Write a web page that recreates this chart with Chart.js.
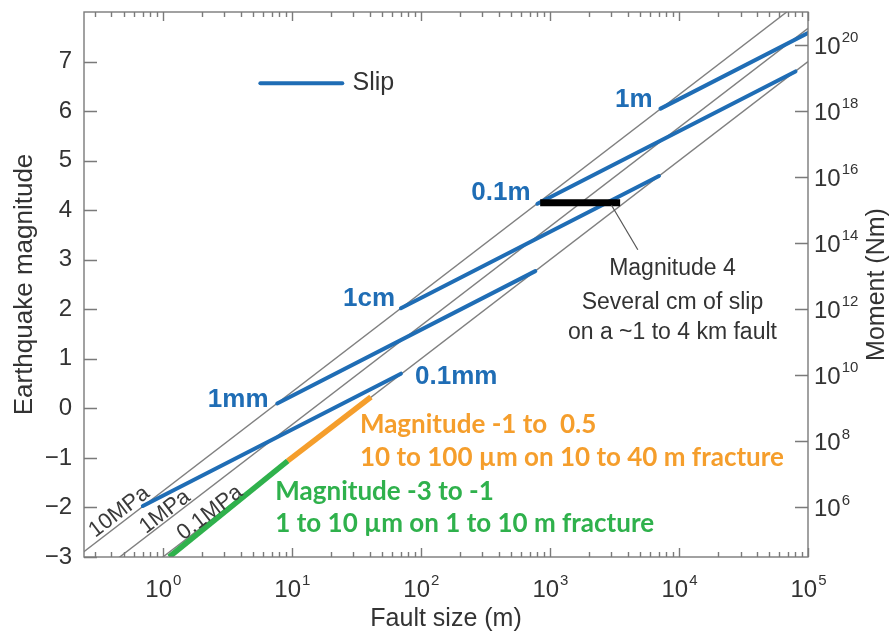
<!DOCTYPE html>
<html lang="en">
<head>
<meta charset="UTF-8">
<title>Earthquake magnitude vs fault size</title>
<script src="https://cdn.jsdelivr.net/npm/chart.js"></script>
<style>
  html, body { margin: 0; padding: 0; background: #fff; }
</style>
</head>
<body>
<canvas id="chart" width="893" height="634"></canvas>
<script>
// axis ticks
const faultTicks = [1, 10, 100, 1000, 10000, 100000];
const magTicks = [-3, -2, -1, 0, 1, 2, 3, 4, 5, 6, 7];
const momentTicks = [1e6, 1e8, 1e10, 1e12, 1e14, 1e16, 1e18, 1e20];

// stress drop lines: fault size (m) and magnitude at both ends
const stressNames = ['10MPa', '1MPa', '0.1MPa'];
const stressL = [[0.2, 100000], [0.2, 100000], [0.2, 100000]];
const stressM = [[-3.07, 8.33], [-3.73, 7.67], [-4.40, 7.00]];
const stressLabelL = [0.46, 1.04, 2.32];
const stressLabelM = [-2.09, -2.09, -2.11];

// slip lines
const slipNames = ['0.1mm', '1mm', '1cm', '0.1m', '1m'];
const slipL = [[0.7, 70], [7.7, 770], [70, 7000], [800, 80000], [7200, 720000]];
const slipM = [[-1.97, 0.70], [0.10, 2.77], [2.02, 4.69], [4.13, 6.80], [6.05, 8.72]];
const slipLabelL = [90, 6.6, 63, 708, 6240];
const slipLabelM = [0.64, 0.18, 2.21, 4.35, 6.22];

// small events
const greenL = [1.12, 9.3];
const greenM = [-3.0, -1.06];
const orangeL = [9.3, 41];
const orangeM = [-1.06, 0.23];
const orangeText = ['Magnitude -1 to  0.5', '10 to 100 µm on 10 to 40 m fracture'];
const orangeTextL = 33.7;
const orangeTextM = [-0.32, -1.0];
const greenText = ['Magnitude -3 to -1', '1 to 10 µm on 1 to 10 m fracture'];
const greenTextL = 7.45;
const greenTextM = [-1.69, -2.32];

// magnitude 4 bar and note
const barL = [840, 3500];
const barM = [4.15, 4.15];
const leaderL = [3000, 4800];
const leaderM = [4.1, 3.2];
const noteText = ['Magnitude 4', 'Several cm of slip', 'on a ~1 to 4 km fault'];
const noteL = 8900;
const noteM = [2.82, 2.13, 1.53];

// legend key
const keyL = [5.7, 24.6];
const keyM = [6.56, 6.56];
const keyTextL = 29.5;

// moment <-> magnitude: Mw = 2/3 (log10 M0 - 9.0)
const momentMin = Math.pow(10, 1.5 * -3 + 9.0);
const momentMax = Math.pow(10, 1.5 * 8 + 9.0);

const BLUE = '#1f6db5';
const GREEN = '#2fb14c';
const ORANGE = '#f59e2c';
const GRAY = '#808080';
const TXT = '#333';
const FONT = "'Liberation Sans', Arial, sans-serif";

Chart.defaults.font.family = FONT;
Chart.defaults.color = TXT;

const seg = (L, M) => L.map((v, i) => ({ x: v, y: M[i] }));

const datasets = [];
stressNames.forEach((n, i) => datasets.push({
  label: n, data: seg(stressL[i], stressM[i]),
  borderColor: GRAY, borderWidth: 1.4, order: 6, clip: 0
}));
slipNames.forEach((n, i) => datasets.push({
  label: n, data: seg(slipL[i], slipM[i]),
  borderColor: BLUE, borderWidth: 4, borderCapStyle: 'round', order: 5, clip: 0
}));
datasets.push({ label: 'Slip', data: seg(keyL, keyM), borderColor: BLUE, borderWidth: 4, borderCapStyle: 'round', order: 5, clip: 0 });
datasets.push({ label: 'M -3 to -1', data: seg(greenL, greenM), borderColor: GREEN, borderWidth: 5.5, order: 4, clip: 0 });
datasets.push({ label: 'M -1 to 0.5', data: seg(orangeL, orangeM), borderColor: ORANGE, borderWidth: 5.5, order: 3, clip: 0 });
datasets.push({ label: 'M4', data: seg(barL, barM), borderColor: '#000', borderWidth: 7, order: 2, clip: 0 });
datasets.push({ label: 'leader', data: seg(leaderL, leaderM), borderColor: '#555', borderWidth: 1.2, order: 1, clip: 0 });

function put(ctx, str, X, Y, font, color, align) {
  ctx.font = font;
  ctx.fillStyle = color;
  ctx.textAlign = align;
  ctx.textBaseline = 'middle';
  ctx.fillText(str, X, Y);
}

// "10" with a raised exponent
function power(ctx, X, Y, e, align) {
  const big = '24px ' + FONT, small = '15px ' + FONT;
  ctx.font = big;
  const w1 = ctx.measureText('10').width;
  ctx.font = small;
  const w2 = ctx.measureText(String(e)).width;
  const x0 = align === 'center' ? X - (w1 + w2) / 2 : X;
  put(ctx, '10', x0, Y, big, TXT, 'left');
  put(ctx, String(e), x0 + w1 + 1, Y - 9, small, TXT, 'left');
}

const extras = {
  id: 'extras',
  afterDatasetsDraw(chart) {
    const { ctx, scales: { x, y } } = chart;
    const px = v => x.getPixelForValue(v);
    const py = v => y.getPixelForValue(v);
    ctx.save();

    // labels along the stress lines
    const ang = Math.atan2(py(2) - py(0), px(10) - px(1));
    stressNames.forEach((n, i) => {
      ctx.save();
      ctx.translate(px(stressLabelL[i]), py(stressLabelM[i]));
      ctx.rotate(ang);
      put(ctx, n, 0, 0, '22px ' + FONT, '#3a3a3a', 'center');
      ctx.restore();
    });

    // slip labels
    slipNames.forEach((n, i) => {
      put(ctx, n, px(slipLabelL[i]), py(slipLabelM[i]), 'bold 26px ' + FONT, BLUE, i === 0 ? 'left' : 'right');
    });

    put(ctx, 'Slip', px(keyTextL), py(keyM[0]), '25px ' + FONT, TXT, 'left');

    const calib = "bold 26px Lato, 'Open Sans', sans-serif";
    orangeText.forEach((t, i) => put(ctx, t, px(orangeTextL), py(orangeTextM[i]), calib, ORANGE, 'left'));
    greenText.forEach((t, i) => put(ctx, t, px(greenTextL), py(greenTextM[i]), calib, GREEN, 'left'));

    noteText.forEach((t, i) => put(ctx, t, px(noteL), py(noteM[i]), '23px ' + FONT, TXT, 'center'));
    ctx.restore();
  },
  afterDraw(chart) {
    const { ctx, chartArea: a, scales: { x, y, y2 } } = chart;
    ctx.save();
    ctx.strokeStyle = '#7a7a7a';
    ctx.lineWidth = 1.4;
    ctx.strokeRect(a.left, a.top, a.right - a.left, a.bottom - a.top);
    ctx.beginPath();
    for (let e = -1; e <= 5; e++) {
      for (let m = 1; m <= 9; m++) {
        const v = m * Math.pow(10, e);
        if (v < x.min || v > x.max * 1.0001) continue;
        const p = Math.round(x.getPixelForValue(v)) + 0.5;
        const len = m === 1 ? 9 : 5;
        ctx.moveTo(p, a.bottom); ctx.lineTo(p, a.bottom - len);
        ctx.moveTo(p, a.top); ctx.lineTo(p, a.top + len);
      }
    }
    magTicks.forEach(v => {
      const p = Math.round(y.getPixelForValue(v)) + 0.5;
      ctx.moveTo(a.left, p); ctx.lineTo(a.left + 13, p);
    });
    momentTicks.forEach(v => {
      const p = Math.round(y2.getPixelForValue(v)) + 0.5;
      ctx.moveTo(a.right, p); ctx.lineTo(a.right - 13, p);
    });
    ctx.stroke();

    // power-of-ten tick labels
    faultTicks.forEach(v => power(ctx, x.getPixelForValue(v), a.bottom + 33, Math.round(Math.log10(v)), 'center'));
    momentTicks.forEach(v => power(ctx, a.right + 6, y2.getPixelForValue(v) + 2, Math.round(Math.log10(v)), 'left'));

    // right axis title, reading bottom to top
    ctx.translate(877, (a.top + a.bottom) / 2);
    ctx.rotate(-Math.PI / 2);
    put(ctx, 'Moment (Nm)', 0, 0, '25px ' + FONT, TXT, 'center');
    ctx.restore();
  }
};

new Chart(document.getElementById('chart'), {
  type: 'line',
  data: { datasets },
  options: {
    responsive: false,
    animation: false,
    layout: { padding: { top: 12, left: 0, right: 0, bottom: 0 } },
    elements: { point: { radius: 0 }, line: { tension: 0 } },
    plugins: { legend: { display: false }, tooltip: { enabled: false } },
    scales: {
      x: {
        type: 'logarithmic', position: 'bottom', min: 0.245, max: 100000,
        grid: { display: false, drawTicks: false }, border: { display: false },
        afterBuildTicks: s => { s.ticks = faultTicks.map(v => ({ value: v })); },
        afterFit: s => { s.height = 77; s.paddingLeft = 0; s.paddingRight = 0; },
        ticks: { display: false },
        title: { display: true, text: 'Fault size (m)', font: { size: 25 }, padding: { top: 0, bottom: 0 } }
      },
      y: {
        type: 'linear', position: 'left', min: -3, max: 8,
        grid: { display: false, drawTicks: false }, border: { display: false },
        afterBuildTicks: s => { s.ticks = magTicks.map(v => ({ value: v })); },
        afterFit: s => { s.width = 84; s.paddingTop = 0; s.paddingBottom = 0; },
        ticks: {
          padding: 12, font: { size: 24 },
          callback: v => v < 0 ? '\u2212' + Math.abs(v) : String(v)
        },
        title: { display: true, text: 'Earthquake magnitude', font: { size: 26 }, padding: { top: 9, bottom: 0 } }
      },
      y2: {
        type: 'logarithmic', position: 'right', min: momentMin, max: momentMax,
        grid: { display: false, drawTicks: false }, border: { display: false },
        afterBuildTicks: s => { s.ticks = momentTicks.map(v => ({ value: v })); },
        afterFit: s => { s.width = 85; s.paddingTop = 0; s.paddingBottom = 0; },
        ticks: { display: false }
      }
    }
  },
  plugins: [extras]
});
</script>
</body>
</html>
